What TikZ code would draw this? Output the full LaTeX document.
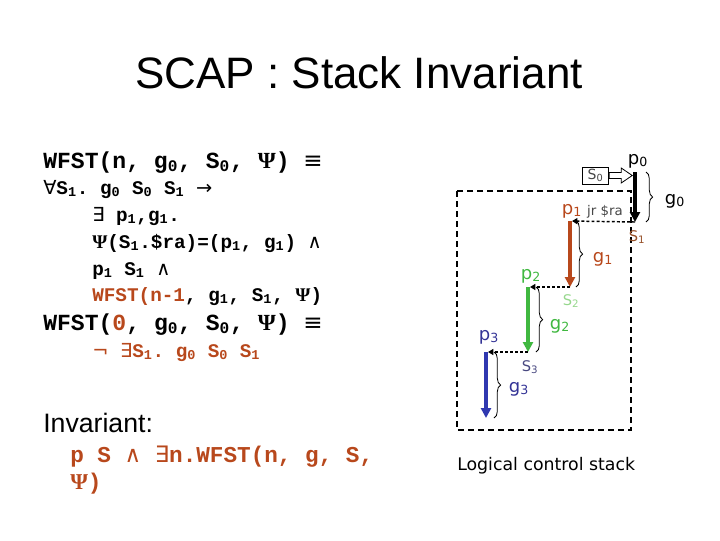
\documentclass[tikz,border=0pt]{standalone}
\usepackage{fontspec}
\setmainfont{Liberation Sans}
\newfontfamily\monof{Liberation Mono}
\newfontfamily\symf{DejaVu Sans}
\newfontfamily\grkf{Liberation Serif}
\newfontfamily\labf{DejaVu Sans}
\usetikzlibrary{arrows.meta,decorations.pathreplacing,calc}
\definecolor{brn}{RGB}{184,72,28}
\definecolor{sone}{RGB}{150,80,40}
\definecolor{grn}{RGB}{64,184,64}
\definecolor{lgrn}{RGB}{150,215,140}
\definecolor{blu}{RGB}{48,56,176}
\definecolor{bluet}{RGB}{52,52,150}
\definecolor{slate}{RGB}{72,72,128}
\definecolor{gry}{RGB}{70,70,70}
\newcommand\Psy{{\grkf\bfseries Ψ}}
\newcommand\sy[1]{{\symf\mdseries #1}}
\newcommand\sbs[1]{\textsubscript{#1}}
\frenchspacing
\begin{document}
\begin{tikzpicture}[x=0.75pt,y=-0.75pt,
  big/.style={anchor=base west,inner sep=0pt,font=\monof\bfseries\fontsize{17.3}{21}\selectfont},
  small/.style={anchor=base west,inner sep=0pt,font=\monof\bfseries\fontsize{14.5}{18}\selectfont},
  invf/.style={anchor=base west,inner sep=0pt,text=brn,font=\monof\bfseries\fontsize{17}{20}\selectfont},
  lab/.style={anchor=base,inner sep=0pt,font=\labf\fontsize{13.5}{15}\selectfont},
  slab/.style={anchor=base,inner sep=0pt,font=\labf\fontsize{11}{13}\selectfont},
  stk/.style={line width=3pt,-{Triangle[length=7.5pt,width=7.5pt]}},
  dotc/.style={line width=1.1pt,dash pattern=on 2.2pt off 1.6pt,-{Triangle[length=4pt,width=4.5pt]},shorten >=1.5pt},
  brc/.style={decorate,decoration={brace,amplitude=5pt},line width=0.6pt},
  frame/.style={line width=1.9pt,dash pattern=on 4.5pt off 3pt}]
\useasboundingbox (0,0) rectangle (720,540);

% title
\node[anchor=base,inner sep=0pt,font=\fontsize{33}{40}\selectfont] (title) at (359,88) {SCAP : Stack Invariant};

% left formulas
\node[big] (l1) at (43,168) {WFST(n, g\sbs{0}, S\sbs{0}, \Psy) \sy{≡}};
\node[small] (l2) at (43,194) {\sy{∀}S\sbs{1}. g\sbs{0} S\sbs{0} S\sbs{1} \sy{→}};
\node[small] (l3) at (92,221) {\sy{∃} p\sbs{1},g\sbs{1}.};
\node[small] (l4) at (92,248) {\Psy(S\sbs{1}.\$ra)=(p\sbs{1}, g\sbs{1}) \sy{∧}};
\node[small] (l5) at (92,275) {p\sbs{1} S\sbs{1} \sy{∧}};
\node[small] (l6) at (92,301) {\textcolor{brn}{WFST(n-1}, g\sbs{1}, S\sbs{1}, \Psy)};
\node[big] (l7) at (43,330) {WFST(\textcolor{brn}{0}, g\sbs{0}, S\sbs{0}, \Psy) \sy{≡}};
\node[small,text=brn] (l8) at (92,357) {\sy{¬} \sy{∃}S\sbs{1}. g\sbs{0} S\sbs{0} S\sbs{1}};

% invariant
\node[anchor=base west,inner sep=0pt,font=\fontsize{20}{24}\selectfont] (inv) at (43,432) {Invariant:};
\node[invf] (i1) at (70,462) {p S \sy{∧} \sy{∃}n.WFST(n, g, S,};
\node[invf] (i2) at (70,489) {\Psy)};

% dashed frame
\draw[frame] (457,191) rectangle (631,430);

% stack arrow ends
\coordinate (a0t) at (635,172); \coordinate (a0b) at (635,222);
\coordinate (a1t) at (570,221); \coordinate (a1b) at (570,287);
\coordinate (a2t) at (528,287); \coordinate (a2b) at (528,352);
\coordinate (a3t) at (486,352); \coordinate (a3b) at (486,418);

% S0 box and block arrow
\node[draw,line width=0.6pt,fill=white,inner sep=0pt,minimum width=20pt,minimum height=12.75pt,
      text=gry,font=\labf\fontsize{10.5}{12}\selectfont] (s0) at (595.5,175.5) {S\sbs{0}};
\draw[line width=0.6pt,fill=white] (s0.east) ++(0,-3) -- ++(12,0) -- ++(0,-4.5) -- ++(11,7.5)
   -- ++(-11,7.5) -- ++(0,-4.5) -- ++(-12,0) -- cycle;

% stack arrows
\draw[stk,black] (a0t) -- (a0b);
\draw[stk,brn] (a1t) -- (a1b);
\draw[stk,grn] (a2t) -- (a2b);
\draw[stk,blu] (a3t) -- (a3b);

% return links
\draw[dotc] (a0b) -- (a1t);
\draw[dotc] (a1b) -- (a2t);
\draw[dotc] (a2b) -- (a3t);

% braces
\draw[brc] ([xshift=8.25pt]a0t) -- ([xshift=8.25pt]a0b);
\draw[brc] ([xshift=4.5pt]a1t) -- ([xshift=4.5pt]a1b);
\draw[brc] ([xshift=6pt]a2t) -- ([xshift=6pt]a2b);
\draw[brc] ([xshift=6pt]a3t) -- ([xshift=6pt]a3b);

% labels
\node[lab] (p0) at (638,164) {p\sbs{0}};
\node[lab] (g0) at (675,204) {g\sbs{0}};
\node[lab,text=brn] (p1) at (572,214) {p\sbs{1}};
\node[anchor=base,inner sep=0pt,text=gry,font=\labf\fontsize{10}{12}\selectfont] (jr) at (605,215) {jr \$ra};
\node[slab,text=sone] (s1) at (637,241) {S\sbs{1}};
\node[lab,text=brn] (g1) at (603,262) {g\sbs{1}};
\node[lab,text=grn] (p2) at (531,279) {p\sbs{2}};
\node[slab,text=lgrn] (s2) at (571,305) {S\sbs{2}};
\node[lab,text=grn] (g2) at (560,329) {g\sbs{2}};
\node[lab,text=bluet] (p3) at (489,340) {p\sbs{3}};
\node[slab,text=slate] (s3) at (530,371) {S\sbs{3}};
\node[lab,text=bluet] (g3) at (519,392) {g\sbs{3}};

\node[anchor=base west,inner sep=0pt,font=\labf\fontsize{13}{15}\selectfont] (lcs) at (457,470) {Logical control stack};
\end{tikzpicture}
\end{document}
